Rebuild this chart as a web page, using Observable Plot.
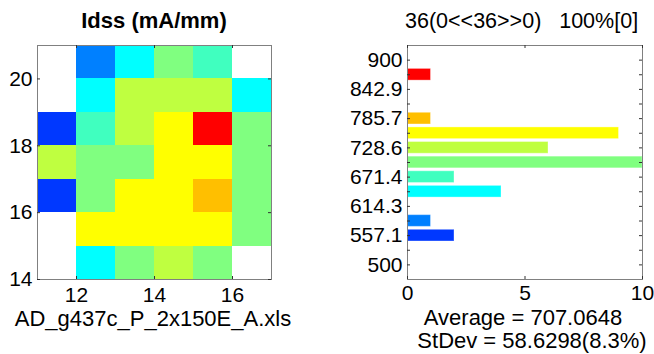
<!DOCTYPE html>
<html><head><meta charset="utf-8">
<script src="https://cdn.jsdelivr.net/npm/d3@7"></script>
<script src="https://cdn.jsdelivr.net/npm/@observablehq/plot@0.6"></script>
<style>
html,body{margin:0;padding:0;background:#fff;}
#wrap{position:relative;width:654px;height:354px;overflow:hidden;font-family:"Liberation Sans",Arial,sans-serif;}
#wrap > svg{position:absolute;top:0;}
</style></head><body><div id="wrap"></div>
<script>
// ---- data ----
const waferCols = [11, 12, 13, 14, 15, 16];
const waferRows = [20, 19, 18, 17, 16, 15, 14];
const waferValues = [
  [null, 585.7, 642.9, 700.0, 671.4, null],
  [null, 642.9, 728.6, 728.6, 728.6, 642.9],
  [557.1, 671.4, 728.6, 757.1, 871.4, 700.0],
  [728.6, 700.0, 700.0, 757.1, 757.1, 700.0],
  [557.1, 700.0, 757.1, 757.1, 785.7, 700.0],
  [null, 757.1, 757.1, 757.1, 757.1, 700.0],
  [null, 642.9, 700.0, 728.6, 700.0, null]
];
const binCenters = [557.1, 585.7, 642.9, 671.4, 700.0, 728.6, 757.1, 785.7, 871.4];
const binCounts  = [2, 1, 4, 2, 10, 6, 9, 1, 1];
const levelThresholds = [571.4, 614.3, 657.1, 685.7, 714.3, 742.9, 771.4, 828.6];
const jetColors = ["#0038ff", "#0080ff", "#00ffff", "#40ffbf", "#80ff80", "#bfff40", "#ffff00", "#ffbf00", "#ff0000"];
const mapXTicks = [12, 14, 16];
const mapYTicks = [14, 16, 18, 20];
const histXTicks = [0, 5, 10];
const histYTickLabels = ["500", "557.1", "614.3", "671.4", "728.6", "785.7", "842.9", "900"];
const mapTitle = "Idss (mA/mm)";
const histTitle = "36(0<<36>>0)   100%[0]";
const fileName = "AD_g437c_P_2x150E_A.xls";
const avgText = "Average = 707.0648";
const stdText = "StDev = 58.6298(8.3%)";

// ---- derived ----
const cells = [];
waferRows.forEach((r, i) => waferCols.forEach((c, j) => {
  const v = waferValues[i][j];
  if (v != null) cells.push({x: c, y: r, v});
}));
const histYTicks = histYTickLabels.map(Number);
const yMin = histYTicks[0], yMax = histYTicks[histYTicks.length - 1];
const binStep = (yMax - yMin) / ((histYTicks.length - 1) * 2);
const minorTicks = d3.range(0, (histYTicks.length - 1) * 2 + 1).map(k => yMin + k * binStep);
const bins = binCenters.map((c, i) => ({c, n: binCounts[i]}));

const W = 327, H = 354, mt = 45, mb = 75;
const fontStyle = {fontSize: "21px", fontFamily: "Liberation Sans, Arial, sans-serif", color: "black", background: "transparent", overflow: "visible"};
const colorScale = {type: "threshold", domain: levelThresholds, range: jetColors};
const tickStroke = "#333";
const TL = 3;

// ---- left: wafer map ----
const mML = 37, mMR = 56;
const mIW = W - mML - mMR, mIH = H - mt - mb;
const left = Plot.plot({
  width: W, height: H, marginLeft: mML, marginRight: mMR, marginTop: mt, marginBottom: mb,
  x: {domain: [waferCols[0], waferCols[waferCols.length - 1] + 1], label: null},
  y: {domain: [waferRows[waferRows.length - 1], waferRows[0] + 1], label: null},
  color: colorScale,
  style: fontStyle,
  marks: [
    Plot.rect(cells, {x1: "x", x2: d => d.x + 1, y1: "y", y2: d => d.y + 1, fill: "v", shapeRendering: "crispEdges"}),
    Plot.frame({stroke: "#808080"}),
    Plot.tickY(mapYTicks, {y: d => d, insetRight: mIW - TL, stroke: tickStroke}),
    Plot.tickY(mapYTicks, {y: d => d, insetLeft: mIW - TL, stroke: tickStroke}),
    Plot.tickX(mapXTicks, {x: d => d, insetTop: mIH - TL, stroke: tickStroke}),
    Plot.tickX(mapXTicks, {x: d => d, insetBottom: mIH - TL, stroke: tickStroke}),
    Plot.axisX(mapXTicks, {tickSize: 0, tickPadding: 8}),
    Plot.axisY(mapYTicks, {tickSize: 0, tickPadding: 5})
  ]
});
left.style.left = "0px";

// ---- right: histogram ----
const hML = 80, hMR = 12;
const hIW = W - hML - hMR, hIH = H - mt - mb;
const right = Plot.plot({
  width: W, height: H, marginLeft: hML, marginRight: hMR, marginTop: mt, marginBottom: mb,
  x: {domain: [histXTicks[0], histXTicks[histXTicks.length - 1]], label: null},
  y: {domain: [yMin - binStep, yMax + binStep], label: null},
  color: colorScale,
  style: fontStyle,
  marks: [
    Plot.rectX(bins, {x1: 0, x2: "n", y1: d => d.c - 0.4 * binStep, y2: d => d.c + 0.4 * binStep, fill: "c", stroke: "white", strokeOpacity: 0.35, strokeWidth: 1}),
    Plot.frame({stroke: "#808080"}),
    Plot.tickY(minorTicks, {y: d => d, insetRight: hIW - TL, stroke: tickStroke}),
    Plot.tickY(minorTicks, {y: d => d, insetLeft: hIW - TL, stroke: tickStroke}),
    Plot.tickX(histXTicks, {x: d => d, insetTop: hIH - TL, stroke: tickStroke}),
    Plot.tickX(histXTicks, {x: d => d, insetBottom: hIH - TL, stroke: tickStroke}),
    Plot.axisX(histXTicks, {tickSize: 0, tickPadding: 6}),
    Plot.axisY(histYTicks, {tickSize: 0, tickPadding: 5, tickFormat: (d, i) => histYTickLabels[i]})
  ]
});
right.style.left = W + "px";

const wrap = document.getElementById("wrap");
wrap.appendChild(left);
wrap.appendChild(right);

// ---- text overlay ----
const ov = d3.select(wrap).append("svg").attr("width", 654).attr("height", 354)
  .style("left", "0px").style("font-family", "Liberation Sans, Arial, sans-serif");
const texts = [
  {t: mapTitle, x: 154, y: 28, a: "middle", w: "bold", s: 22},
  {t: histTitle, x: 405, y: 28, a: "start", w: "normal", s: 21.5},
  {t: fileName, x: 153, y: 326, a: "middle", w: "normal", s: 22},
  {t: avgText, x: 523, y: 325, a: "middle", w: "normal", s: 22},
  {t: stdText, x: 532, y: 348, a: "middle", w: "normal", s: 22}
];
ov.selectAll("text").data(texts).join("text")
  .attr("x", d => d.x).attr("y", d => d.y)
  .attr("text-anchor", d => d.a).attr("font-weight", d => d.w)
  .attr("font-size", d => d.s).attr("fill", "black")
  .style("white-space", "pre").attr("xml:space", "preserve")
  .text(d => d.t);
</script></body></html>
